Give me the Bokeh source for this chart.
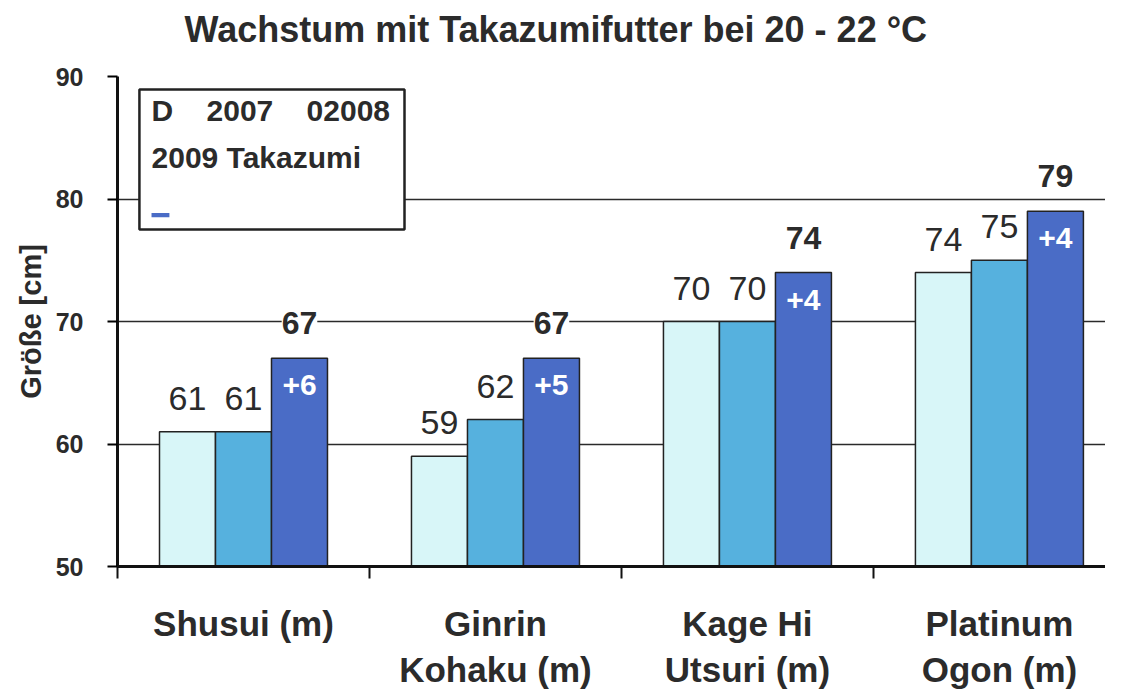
from bokeh.plotting import figure
from bokeh.models import (ColumnDataSource, LabelSet, Label, Range1d, FixedTicker,
                          BoxAnnotation, Title)
from bokeh.core.properties import value
from bokeh.embed import file_html
from bokeh.resources import INLINE

categories = ["Shusui (m)", "Ginrin\nKohaku (m)", "Kage Hi\nUtsuri (m)", "Platinum\nOgon (m)"]
v2007 = [61, 59, 70, 74]
v2008 = [61, 62, 70, 75]
v2009 = [67, 67, 74, 79]
gain = ["+6", "+5", "+4", "+4"]
y_ticks = [50, 60, 70, 80, 90]
title_text = "Wachstum mit Takazumifutter bei 20 - 22 °C"
NB = "\u00a0"
legend_lines = ["D" + NB * 4 + "2007" + NB * 4 + "02008", "2009 Takazumi"]

FONT = "Liberation Sans"
TXT = "#2b2b2b"
C07, C08, C09 = "#d8f6f8", "#56b1de", "#4a6cc6"

p = figure(frame_width=988, frame_height=490, output_backend="svg", toolbar_location=None,
           x_range=Range1d(0, 3.921), y_range=Range1d(50, 90),
           min_border_left=117, min_border_right=0, min_border_top=76,
           min_border_bottom=40)
p.outline_line_color = None
p.background_fill_color = "white"

# spacer between frame and title, then the title itself
p.add_layout(Title(text=NB, text_font=FONT, text_font_size="22px", standoff=0), "above")
p.add_layout(Title(text=title_text, align="left", offset=67,
                   text_font=FONT, text_font_size="36px", text_font_style="bold",
                   text_color=TXT, standoff=0), "above")

n = len(categories)
centers = [i + 0.5 for i in range(n)]
w = 56 / 252
src = ColumnDataSource(dict(
    x07=[c - w for c in centers], x08=centers, x09=[c + w for c in centers],
    v07=v2007, v08=v2008, v09=v2009,
    l07=[str(v) for v in v2007], l08=[str(v) for v in v2008],
    l09=[str(v) for v in v2009], gain=gain))

for xc, vc, col in (("x07", "v07", C07), ("x08", "v08", C08), ("x09", "v09", C09)):
    p.vbar(x=xc, top=vc, bottom=50, width=w, source=src, fill_color=col,
           line_color="#222222", line_width=1.5)

for xc, vc, lc in (("x07", "v07", "l07"), ("x08", "v08", "l08")):
    p.add_layout(LabelSet(x=xc, y=vc, text=lc, source=src, y_offset=22,
                          text_align="center", text_baseline="alphabetic",
                          text_font=value(FONT), text_font_size="34px",
                          text_color=TXT, background_fill_color="white"))
p.add_layout(LabelSet(x="x09", y="v09", text="l09", source=src, y_offset=24,
                      text_align="center", text_baseline="alphabetic",
                      text_font=value(FONT), text_font_size="32px",
                      text_font_style="bold", text_color=TXT,
                      background_fill_color="white"))
p.add_layout(LabelSet(x="x09", y="v09", text="gain", source=src, y_offset=-37,
                      text_align="center", text_baseline="alphabetic",
                      text_font=value(FONT), text_font_size="30px",
                      text_font_style="bold", text_color="white"))

# grid
p.xgrid.grid_line_color = None
p.ygrid.ticker = FixedTicker(ticks=y_ticks)
p.ygrid.grid_line_color = "#2a2a2a"
p.ygrid.grid_line_width = 1.6
p.ygrid.level = "underlay"

# y axis
ya = p.yaxis[0]
ya.ticker = FixedTicker(ticks=y_ticks)
ya.axis_line_color = "#111111"
ya.axis_line_width = 3
ya.major_tick_out = 10
ya.major_tick_in = 0
ya.major_tick_line_width = 2
ya.minor_tick_line_color = None
ya.major_label_standoff = 24
ya.major_label_text_font = FONT
ya.major_label_text_font_size = "25px"
ya.major_label_text_font_style = "bold"
ya.major_label_text_color = TXT
ya.axis_label = "Größe [cm]"
ya.axis_label_text_font = FONT
ya.axis_label_text_font_size = "29px"
ya.axis_label_text_font_style = "bold"
ya.axis_label_text_color = TXT
ya.axis_label_standoff = 6

# x axis
xa = p.xaxis[0]
xa.ticker = FixedTicker(ticks=centers, minor_ticks=[0, 1, 2, 3])
xa.major_label_overrides = {c: lab for c, lab in zip(centers, categories)}
xa.axis_line_color = "#111111"
xa.axis_line_width = 3
xa.major_tick_line_color = None
xa.major_tick_out = 0
xa.major_tick_in = 0
xa.minor_tick_out = 12
xa.minor_tick_in = 0
xa.minor_tick_line_color = "#111111"
xa.minor_tick_line_width = 2
xa.major_label_standoff = 25
xa.major_label_text_font = FONT
xa.major_label_text_font_size = "35px"
xa.major_label_text_font_style = "bold"
xa.major_label_text_color = TXT

# legend box (as in the scanned original)
p.add_layout(BoxAnnotation(left=0.087, right=1.139, top=88.94, bottom=77.51,
                           fill_color="white", fill_alpha=1.0,
                           line_color="#222222", line_alpha=1.0, line_width=2.5))
p.add_layout(BoxAnnotation(left=0.135, right=0.206, top=78.85, bottom=78.52,
                           fill_color=C09, fill_alpha=1.0, line_color=None))
for ly, txt in zip([87.2, 83.35], legend_lines):
    p.add_layout(Label(x=0.135, y=ly, text=txt, text_font=FONT,
                       text_font_size="30px", text_font_style="bold",
                       text_color=TXT, text_baseline="alphabetic",
                       text_align="left"))

open("out.html", "w").write(file_html(p, INLINE))
